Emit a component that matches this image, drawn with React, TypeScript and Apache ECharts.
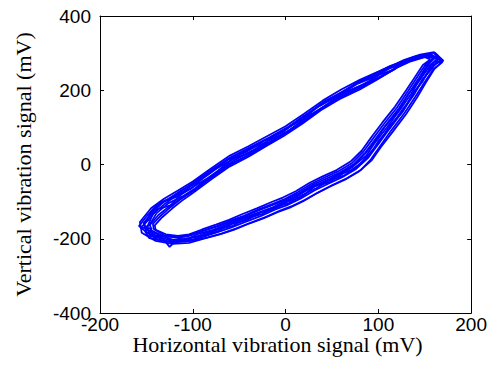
import React, { useEffect, useRef } from "react";
import * as echarts from "echarts";

const xTicks = [-200, -100, 0, 100, 200];
const yTicks = [-400, -200, 0, 200, 400];
const xTitle = "Horizontal vibration signal (mV)";
const yTitle = "Vertical vibration signal (mV)";

const loop1 = [[156,298],[142,291],[127,276],[114,262],[99,244],[79,222],[61,196],[41,166],[21,131],[1,97],[-19,70],[-41,42],[-61,17],[-81,-17],[-101,-52],[-116,-78],[-130,-98],[-142,-125],[-153,-158],[-150,-182],[-138,-202],[-122,-210],[-104,-206],[-89,-195],[-74,-183],[-59,-170],[-44,-155],[-27,-139],[-11,-121],[1,-110],[16,-92],[31,-70],[46,-52],[61,-34],[76,-12],[89,18],[99,52],[111,93],[125,139],[137,184],[146,220],[156,258],[167,281],[156,298]];
const loop2 = [[153,293],[138,283],[123,266],[114,252],[101,234],[81,208],[59,182],[39,152],[19,116],[-1,83],[-21,54],[-39,27],[-59,2],[-79,-33],[-99,-70],[-113,-92],[-125,-112],[-137,-136],[-146,-162],[-145,-177],[-132,-193],[-118,-197],[-106,-194],[-91,-181],[-76,-169],[-61,-156],[-46,-141],[-29,-124],[-13,-108],[-1,-96],[14,-78],[29,-55],[44,-38],[59,-21],[74,2],[86,32],[96,66],[108,106],[122,151],[134,196],[143,230],[152,266],[162,289],[153,293]];
const loop3 = [[158,300],[144,286],[128,275],[116,255],[102,243],[82,213],[62,193],[42,157],[22,127],[2,88],[-18,65],[-38,32],[-58,14],[-78,-28],[-98,-58],[-112,-80],[-124,-110],[-138,-120],[-148,-150],[-156,-170],[-144,-172],[-150,-190],[-132,-200],[-125,-222],[-116,-200],[-100,-203],[-88,-190],[-73,-180],[-58,-160],[-42,-150],[-26,-128],[-10,-118],[2,-100],[17,-88],[32,-58],[47,-48],[62,-24],[77,-8],[90,28],[100,56],[112,104],[126,141],[138,195],[147,221],[157,266],[168,278],[160,300]];
const loop4 = [[155,291],[139,287],[126,270],[112,259],[97,238],[78,218],[58,188],[38,163],[18,121],[-2,92],[-22,59],[-42,38],[-62,7],[-82,-22],[-102,-65],[-117,-82],[-131,-108],[-143,-133],[-149,-168],[-146,-188],[-130,-195],[-118,-206],[-102,-198],[-87,-190],[-72,-174],[-57,-165],[-42,-146],[-25,-133],[-9,-113],[3,-105],[18,-82],[33,-64],[48,-42],[63,-30],[78,-2],[90,22],[100,63],[112,97],[126,148],[138,187],[147,228],[158,259],[166,288],[155,291]];
const loop5 = [[152,297],[137,289],[122,270],[110,261],[96,236],[77,219],[57,186],[37,158],[17,126],[-3,87],[-23,64],[-43,33],[-63,12],[-83,-27],[-103,-60],[-118,-88],[-133,-100],[-145,-128],[-152,-162],[-150,-176],[-140,-192],[-126,-203],[-110,-202],[-94,-192],[-79,-178],[-64,-166],[-49,-150],[-31,-133],[-15,-117],[-3,-101],[12,-87],[27,-60],[42,-47],[57,-26],[72,-7],[85,27],[95,58],[107,102],[121,143],[133,192],[143,223],[153,264],[164,283],[152,297]];
const loop6 = [[157,294],[141,285],[124,274],[117,256],[103,238],[83,215],[63,191],[43,159],[23,123],[3,91],[-17,61],[-37,36],[-57,9],[-77,-24],[-97,-63],[-111,-86],[-126,-104],[-139,-131],[-147,-164],[-153,-170],[-142,-184],[-128,-196],[-121,-212],[-106,-201],[-93,-186],[-78,-176],[-63,-161],[-48,-146],[-30,-130],[-14,-116],[-2,-104],[13,-83],[28,-63],[43,-44],[58,-29],[73,-4],[87,24],[97,61],[109,99],[123,146],[135,189],[144,226],[154,260],[164,286],[157,294]];
const loop7 = [[160,303],[145,296],[128,282],[116,268],[100,250],[80,228],[60,202],[40,172],[20,137],[0,103],[-20,76],[-40,49],[-60,24],[-80,-10],[-100,-46],[-116,-70],[-131,-92],[-145,-118],[-157,-155],[-155,-184],[-140,-206],[-122,-214],[-104,-211],[-88,-200],[-72,-189],[-56,-176],[-41,-161],[-24,-145],[-8,-128],[4,-117],[19,-99],[34,-77],[49,-58],[64,-41],[79,-19],[93,12],[103,48],[116,90],[130,136],[142,182],[151,220],[160,256],[170,280],[160,303]];
const loop8 = [[150,289],[135,278],[120,261],[110,246],[98,228],[80,202],[58,176],[38,146],[18,110],[-2,77],[-22,48],[-40,21],[-60,-5],[-80,-40],[-100,-77],[-112,-98],[-122,-118],[-133,-142],[-141,-164],[-140,-176],[-129,-188],[-116,-192],[-104,-188],[-90,-175],[-75,-162],[-61,-149],[-47,-134],[-31,-118],[-15,-101],[-3,-89],[11,-72],[26,-49],[40,-32],[55,-15],[70,8],[82,37],[92,72],[104,112],[118,156],[130,200],[139,234],[148,268],[156,283],[150,289]];
const loop9 = [[159,301],[146,292],[130,280],[113,266],[98,247],[81,226],[63,198],[42,170],[22,134],[2,100],[-17,73],[-38,46],[-58,20],[-79,-14],[-99,-50],[-114,-72],[-128,-96],[-140,-112],[-150,-140],[-158,-166],[-152,-178],[-147,-198],[-130,-206],[-113,-208],[-97,-204],[-84,-196],[-69,-186],[-53,-172],[-38,-157],[-21,-141],[-6,-124],[6,-113],[21,-95],[36,-74],[51,-55],[66,-37],[81,-15],[92,14],[102,50],[114,92],[128,138],[140,183],[150,222],[159,256],[169,276],[163,296],[159,301]];
const loop10 = [[151,292],[136,281],[121,264],[111,249],[99,231],[79,205],[57,179],[37,149],[17,113],[-3,80],[-21,51],[-41,24],[-61,-2],[-81,-37],[-101,-73],[-114,-95],[-124,-115],[-135,-139],[-143,-160],[-142,-174],[-131,-190],[-117,-195],[-103,-191],[-89,-178],[-74,-166],[-60,-152],[-45,-138],[-29,-121],[-13,-105],[-1,-93],[13,-75],[28,-52],[42,-35],[57,-18],[72,5],[84,35],[94,69],[106,109],[120,153],[132,198],[141,232],[150,266],[159,286],[151,292]];

const loops = [loop1, loop2, loop3, loop4, loop5, loop6, loop7, loop8, loop9, loop10];

export default function App() {
  const ref = useRef<HTMLDivElement>(null);
  useEffect(() => {
    if (!ref.current) return;
    const chart = echarts.init(ref.current, null, { renderer: "svg" });
    const axisLine = { show: true, onZero: false, lineStyle: { color: "#000", width: 1 } };
    const axisTick = { show: true, inside: true, length: 4, lineStyle: { color: "#000", width: 1 } };
    const labelStyle = { color: "#000", fontSize: 19, lineHeight: 15, fontFamily: "'Liberation Sans', Arial, sans-serif" };
    const nameStyle = { color: "#000", fontSize: 22, lineHeight: 22, fontFamily: "'Liberation Serif', 'Times New Roman', serif" };
    chart.setOption({
      animation: false,
      backgroundColor: "#fff",
      grid: { left: 100, right: 18, top: 16, bottom: 62, containLabel: false },
      xAxis: [
        {
          type: "value", min: xTicks[0], max: xTicks[xTicks.length - 1], interval: 100, position: "bottom",
          axisLine, axisTick, splitLine: { show: false },
          axisLabel: { ...labelStyle, margin: 4 },
          name: xTitle, nameLocation: "middle", nameGap: 20, nameMoveOverlap: false,
          nameTextStyle: { ...nameStyle, padding: [0, 16, 0, 0] },
        },
        {
          type: "value", min: xTicks[0], max: xTicks[xTicks.length - 1], interval: 100, position: "top",
          axisLine, axisTick, splitLine: { show: false }, axisLabel: { show: false },
        },
      ],
      yAxis: [
        {
          type: "value", min: yTicks[0], max: yTicks[yTicks.length - 1], interval: 200, position: "left",
          axisLine, axisTick, splitLine: { show: false },
          axisLabel: { ...labelStyle, margin: 9 },
          name: yTitle, nameLocation: "middle", nameGap: 66, nameMoveOverlap: false,
          nameTextStyle: nameStyle,
        },
        {
          type: "value", min: yTicks[0], max: yTicks[yTicks.length - 1], interval: 200, position: "right",
          axisLine, axisTick, splitLine: { show: false }, axisLabel: { show: false },
        },
      ],
      series: loops.map((d) => ({
        type: "line",
        xAxisIndex: 0,
        yAxisIndex: 0,
        data: d,
        showSymbol: false,
        silent: true,
        lineStyle: { color: "#0000ff", width: 1.8 },
      })),
    });
    return () => chart.dispose();
  }, []);
  return <div ref={ref} style={{ position: "fixed", left: 0, top: 0, width: 490, height: 375 }} />;
}
